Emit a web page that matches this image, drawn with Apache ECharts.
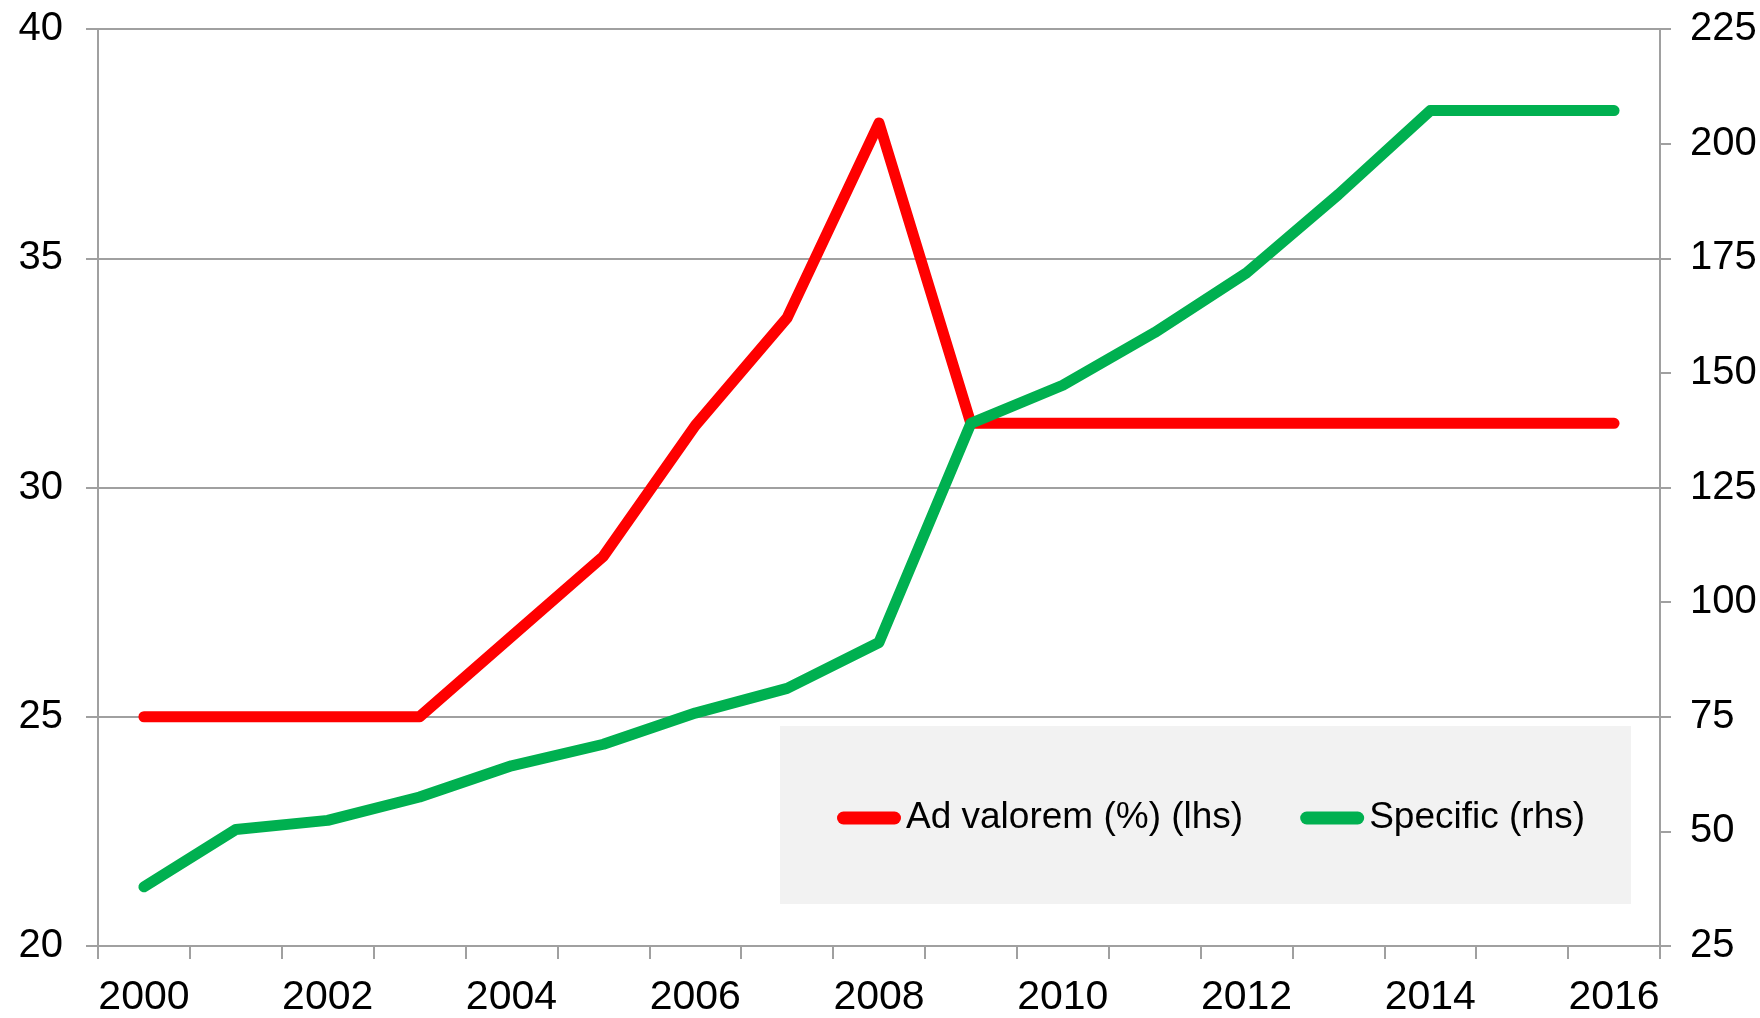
<!DOCTYPE html>
<html>
<head>
<meta charset="utf-8">
<script src="https://cdn.jsdelivr.net/npm/echarts@6/dist/echarts.min.js"></script>
<style>
  html, body { margin: 0; padding: 0; background: #fff; }
  #chart { width: 1760px; height: 1018px; }
</style>
</head>
<body>
<div id="chart"></div>
<script>
const years = ['2000', '2001', '2002', '2003', '2004', '2005', '2006', '2007', '2008',
  '2009', '2010', '2011', '2012', '2013', '2014', '2015', '2016']
const adValorem = [25, 25, 25, 25, 26.75, 28.5, 31.35, 33.7, 37.95,
  31.4, 31.4, 31.4, 31.4, 31.4, 31.4, 31.4, 31.4]
const specific = [37.9, 50.4, 52.4, 57.5, 64.3, 69.0, 75.8, 81.2, 91.2,
  139, 147.3, 158.8, 171.8, 188.9, 207.2, 207.2, 207.2]

const font = '"Liberation Sans", Arial, sans-serif'
const gray = '#a0a0a0'
// capsule shaped legend marker, same aspect as itemWidth x itemHeight
const capsule = 'path://M6.5,0 L57.5,0 A6.5,6.5 0 0 1 57.5,13 L6.5,13 A6.5,6.5 0 0 1 6.5,0 Z'

const chart = echarts.init(document.getElementById('chart'))

const option = {
  animation: false,
  textStyle: { fontFamily: font },
  grid: { left: 98, right: 100, top: 29, bottom: 71 },
  legend: {
    left: 780,
    top: 726,
    padding: [72, 46, 66, 57],
    backgroundColor: '#f2f2f2',
    itemGap: 57,
    itemWidth: 64,
    itemHeight: 13,
    icon: capsule,
    itemStyle: { borderWidth: 0 },
    textStyle: { fontSize: 37, color: '#000', fontFamily: font, lineHeight: 40 },
    data: ['Ad valorem (%) (lhs)', 'Specific (rhs)']
  },
  xAxis: {
    type: 'category',
    data: years,
    boundaryGap: true,
    axisLine: { lineStyle: { color: gray, width: 2 } },
    axisTick: { show: true, interval: 0, length: 13, lineStyle: { color: gray, width: 2 } },
    axisLabel: { interval: 1, fontSize: 41, color: '#000', margin: 31 },
    splitLine: { show: false }
  },
  yAxis: [
    {
      type: 'value',
      min: 20,
      max: 40,
      interval: 5,
      position: 'left',
      axisLine: { show: true, lineStyle: { color: gray, width: 2 } },
      axisTick: { show: true, length: 12, lineStyle: { color: gray, width: 2 } },
      axisLabel: { fontSize: 40, color: '#000', margin: 35 },
      splitLine: { show: true, lineStyle: { color: gray, width: 2 } }
    },
    {
      type: 'value',
      min: 25,
      max: 225,
      interval: 25,
      position: 'right',
      axisLine: { show: true, lineStyle: { color: gray, width: 2 } },
      axisTick: { show: true, length: 11, lineStyle: { color: gray, width: 2 } },
      axisLabel: { fontSize: 40, color: '#000', margin: 30 },
      splitLine: { show: false }
    }
  ],
  series: [
    {
      name: 'Ad valorem (%) (lhs)',
      type: 'line',
      yAxisIndex: 0,
      data: adValorem,
      symbol: 'none',
      color: '#ff0000',
      lineStyle: { color: '#ff0000', width: 11, cap: 'round', join: 'round' }
    },
    {
      name: 'Specific (rhs)',
      type: 'line',
      yAxisIndex: 1,
      data: specific,
      symbol: 'none',
      color: '#00b050',
      lineStyle: { color: '#00b050', width: 11, cap: 'round', join: 'round' }
    }
  ]
}

chart.setOption(option)
</script>
</body>
</html>
